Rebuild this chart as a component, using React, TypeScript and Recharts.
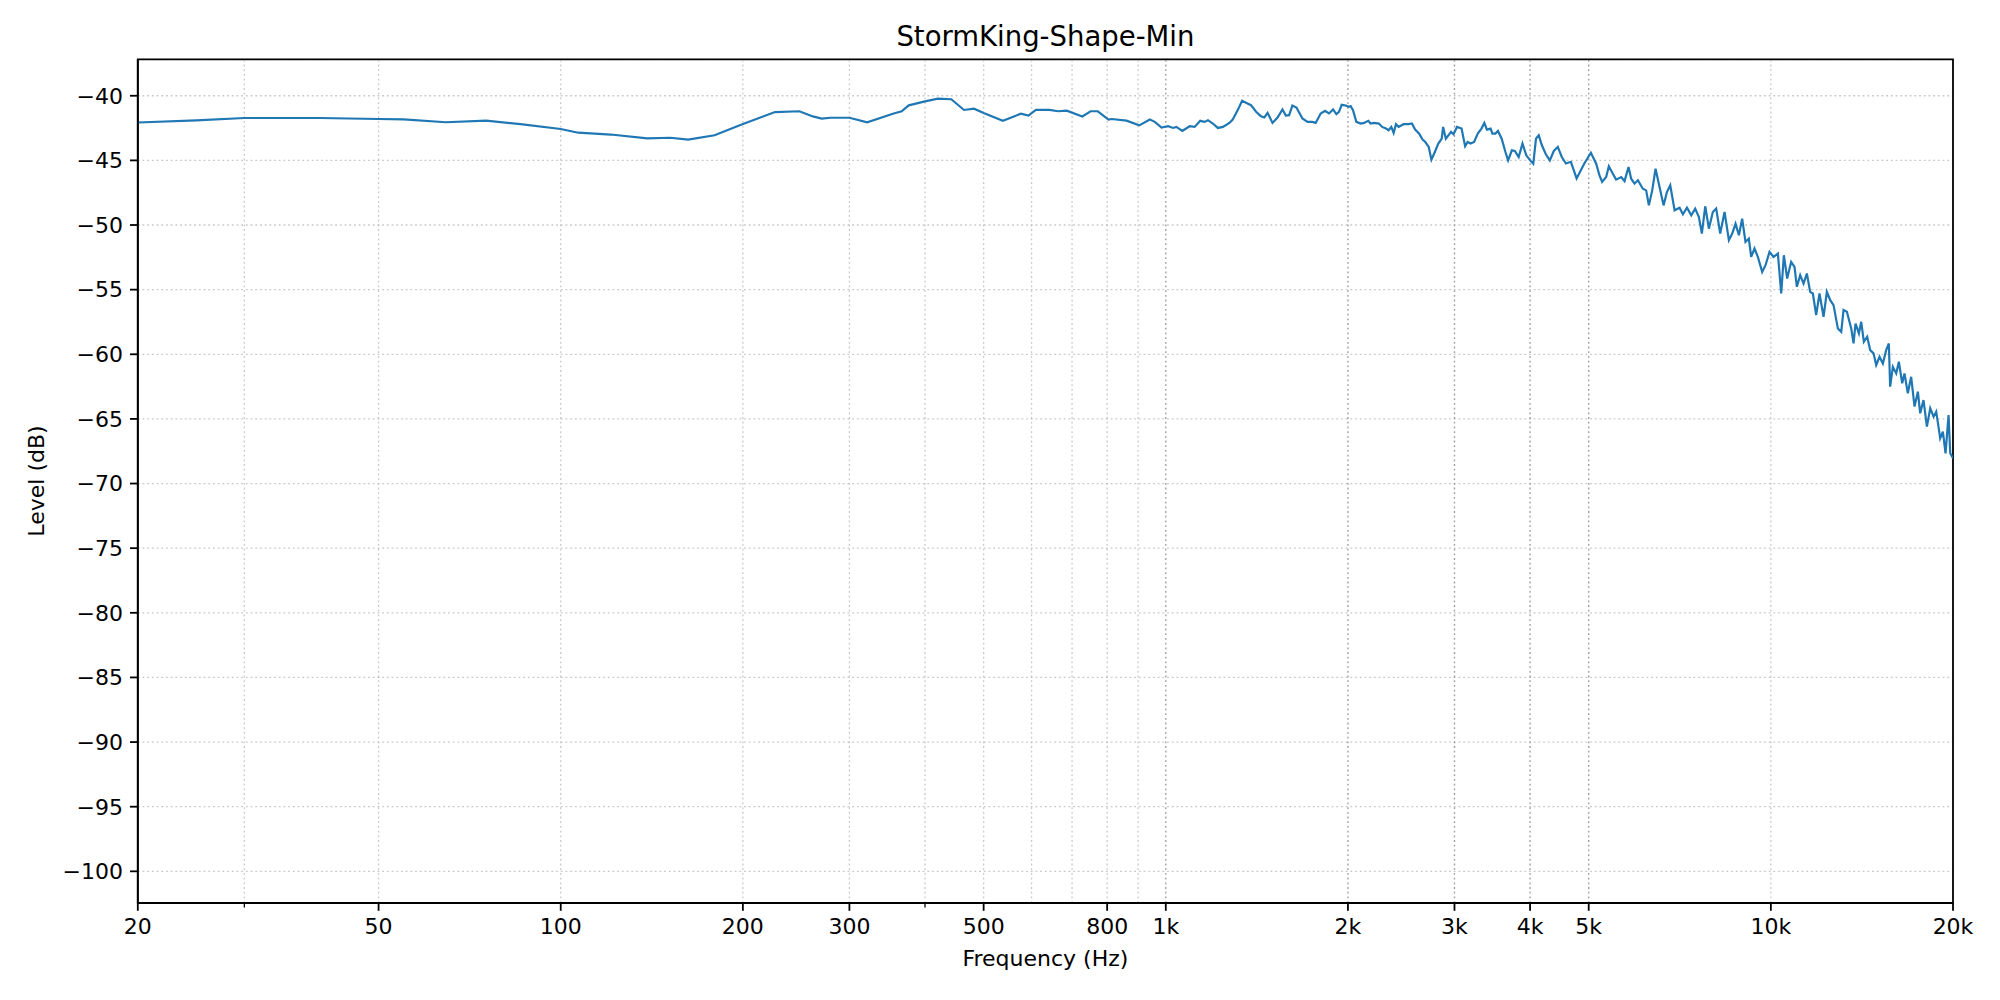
import React from "react"
import { LineChart, Line, XAxis, YAxis, CartesianGrid, ReferenceLine, ReferenceArea } from "recharts"

const freqs = [
  20, 25, 30, 40, 50, 55, 64.6, 75.3, 85.8, 100, 106.9, 121, 139, 151.7, 162.4, 179.6, 198.6, 226, 248,
  261, 270, 279, 300, 321, 354, 366, 376, 400, 420, 442, 464, 482, 500, 538, 576, 593, 610, 642, 664,
  686, 728, 751, 772, 804, 814, 861, 904,
  941, 959, 984, 1009, 1028, 1041, 1065, 1095, 1116, 1140, 1159, 1174, 1196, 1219, 1243, 1274, 1290,
  1315, 1337, 1357, 1383, 1410, 1436, 1455, 1473, 1501, 1530, 1559, 1579, 1599, 1619, 1644, 1682,
  1715, 1747, 1769, 1803, 1833, 1861, 1890, 1914, 1933, 1953, 1983, 2008, 2021, 2039, 2065, 2099,
  2126, 2161, 2180, 2208, 2250, 2278, 2312, 2335, 2359, 2380, 2401, 2426, 2471, 2518, 2551, 2583,
  2623, 2657, 2685, 2720, 2748, 2784, 2821, 2858, 2873, 2903, 2961, 2989, 3029, 3082, 3124, 3154,
  3189, 3233, 3278, 3324, 3361, 3394, 3442, 3466, 3505, 3540, 3590, 3642, 3679, 3732, 3775, 3830,
  3886, 3943, 4001, 4049, 4091, 4134, 4184, 4247, 4312, 4378, 4445, 4513, 4585, 4672, 4775, 4917,
  5041, 5144, 5209, 5262, 5343, 5398, 5481, 5550, 5658, 5730, 5818, 5877, 5953, 6029, 6144, 6222,
  6286, 6367, 6448, 6547, 6648, 6733, 6819, 6933, 7066, 7156, 7267, 7387, 7499, 7604, 7691, 7790,
  7899, 8019, 8121, 8247, 8384, 8524, 8633, 8743, 8855, 8965, 9080, 9196, 9279, 9397, 9517, 9676,
  9799, 9949, 10102, 10271, 10402, 10507, 10641, 10804, 10942, 11041, 11182, 11325, 11468, 11614,
  11733, 11882, 12033, 12220, 12376, 12534, 12694, 12904, 13071, 13186, 13355, 13577, 13697, 13802,
  13980, 14103, 14247, 14428, 14595, 14781, 14931, 15122, 15315, 15508, 15667, 15746, 15909, 16112,
  16276, 16484, 16629, 16841, 17056, 17277, 17498, 17652, 17877, 18109, 18340, 18574, 18763, 19050,
  19244, 19440, 19665, 19790, 20000,
]

const levels = [
  -42.07, -41.9, -41.72, -41.72, -41.8, -41.82, -42.05, -41.93, -42.2, -42.57, -42.86, -43.0, -43.3,
  -43.25, -43.4, -43.06, -42.24, -41.26, -41.2, -41.6, -41.77, -41.7, -41.7, -42.05, -41.39, -41.2,
  -40.74, -40.43, -40.23, -40.27, -41.1, -41.0, -41.34, -41.93, -41.39, -41.53, -41.1, -41.1, -41.2,
  -41.15, -41.6, -41.2, -41.2, -41.85, -41.8, -41.93, -42.29,
  -41.84, -42.02, -42.46, -42.36, -42.49, -42.41, -42.72, -42.36, -42.41, -41.94, -42.02, -41.89,
  -42.15, -42.49, -42.41, -42.1, -41.84, -41.11, -40.39, -40.54, -40.73, -41.24, -41.58, -41.68,
  -41.32, -42.1, -41.68, -41.06, -41.53, -41.5, -40.75, -40.91, -41.76, -42.02, -42.02, -42.1,
  -41.37, -41.17, -41.37, -41.06, -41.42, -41.24, -40.7, -40.75, -40.85, -40.8, -41.11, -42.02,
  -42.15, -42.1, -41.94, -42.15, -42.1, -42.15, -42.41, -42.54, -42.67, -42.41, -42.88, -42.2,
  -42.41, -42.2, -42.2, -42.15, -42.62, -42.93, -43.39, -43.58, -43.96, -44.95, -44.35, -43.7,
  -43.32, -42.41, -43.32, -42.8, -42.98, -42.41, -42.54, -43.91, -43.58, -43.7, -43.58, -42.93,
  -42.54, -42.1, -42.62, -42.54, -42.93, -42.93, -42.72, -43.32, -44.35, -45.0, -44.22, -44.27,
  -44.74, -43.7, -44.61, -45.0, -45.26, -43.32, -43.06, -43.83, -44.53, -45.0, -44.27, -43.96,
  -44.74, -45.24, -45.11, -46.4, -45.24,
  -44.41, -45.26, -46.16, -46.67, -46.29, -45.46, -46.03, -46.49, -46.29, -46.6, -45.51, -46.42,
  -46.8, -46.54, -47.19, -47.32, -48.48, -47.32, -45.64, -47.06, -48.48, -47.45, -46.93, -48.86,
  -48.66, -49.17, -48.66, -49.25, -48.73, -49.38, -50.66, -48.55, -50.28, -48.99, -48.73, -50.66,
  -48.99, -51.18, -50.66, -49.89, -50.79, -49.51, -51.31, -51.05, -52.47, -51.82, -52.47, -53.63,
  -53.11, -52.08, -52.47, -52.21, -55.3, -52.34, -54.14, -52.85, -53.24, -54.78, -53.88, -54.53,
  -53.75, -55.17, -55.3, -56.97, -55.3, -57.1, -55.17, -55.81, -56.2, -58.0, -58.26, -56.58,
  -56.71, -58.0, -59.16, -57.62, -58.39, -57.49, -59.03, -58.64, -59.68, -59.93, -60.83, -60.19,
  -60.71, -59.68, -59.16, -62.51, -60.97, -61.48, -60.58, -62.25, -61.48, -63.02, -61.74, -64.05,
  -62.89, -64.57, -63.54, -65.6, -64.18, -64.83, -64.44, -66.5, -65.98, -67.66, -64.7, -67.66,
  -68.04,
]

const xTicks = [20, 30, 50, 100, 200, 300, 400, 500, 800, 1000, 2000, 3000, 4000, 5000, 10000, 20000]
const xMinor = [30, 400]
const yTicks = [-100, -95, -90, -85, -80, -75, -70, -65, -60, -55, -50, -45, -40]
const gridLight = [30, 50, 100, 200, 300, 400, 500, 600, 700, 800, 900, 10000]
const gridDark = [1000, 2000, 3000, 4000, 5000]

const data = freqs.map((f, i) => ({ f, level: levels[i] }))

const FONT = "'DejaVu Sans', sans-serif"
const TICK_LEN = 7.8
const TICK_MARGIN = 7
const PLOT_LEFT = 137.8
const PLOT_RIGHT = 1953
const PLOT_TOP = 59.3
const PLOT_BOTTOM = 903

const fmtFreq = (v: number) => (v >= 1000 ? `${v / 1000}k` : `${v}`)

function XTick(props: any) {
  const { x, y, payload } = props
  const minor = xMinor.includes(payload.value)
  const axisY = y - TICK_LEN - TICK_MARGIN
  return (
    <g>
      <line x1={x} x2={x} y1={axisY} y2={axisY + (minor ? 4.4 : TICK_LEN)} stroke="#000" strokeWidth={minor ? 1.3 : 1.8} />
      {!minor && (
        <text x={x} y={y} dy="0.75em" textAnchor="middle" fontSize={22} fontFamily={FONT} fill="#000">
          {fmtFreq(payload.value)}
        </text>
      )}
    </g>
  )
}

export default function App() {
  return (
    <div style={{ position: "absolute", left: 0, top: 0, width: 2000, height: 1000, background: "#fff", fontFamily: FONT }}>
      <LineChart
        width={2000}
        height={1000}
        data={data}
        margin={{ top: PLOT_TOP, right: 2000 - PLOT_RIGHT, bottom: 1000 - PLOT_BOTTOM - 30, left: PLOT_LEFT - 80 }}
      >
        <CartesianGrid vertical={false} stroke="#b0b0b0" strokeOpacity={0.7} strokeWidth={1.3} strokeDasharray="1.8 2.9" />
        {gridLight.map((v) => (
          <ReferenceLine key={`gl-${v}`} x={v} stroke="#b0b0b0" strokeOpacity={0.7} strokeWidth={1.3} strokeDasharray="1.8 2.9" />
        ))}
        {gridDark.map((v) => (
          <ReferenceLine key={`gd-${v}`} x={v} stroke="#8f8f8f" strokeOpacity={0.85} strokeWidth={1.4} strokeDasharray="1.8 2.9" />
        ))}
        <XAxis
          dataKey="f"
          type="number"
          scale="log"
          domain={[20, 20000]}
          allowDataOverflow
          ticks={xTicks}
          interval={0}
          height={30}
          tickSize={TICK_LEN}
          tickMargin={TICK_MARGIN}
          tickLine={false}
          axisLine={{ stroke: "#000", strokeWidth: 1.8 }}
          tick={<XTick />}
        />
        <YAxis
          type="number"
          domain={[-102.45, -37.18]}
          allowDataOverflow
          ticks={yTicks}
          interval={0}
          width={80}
          tickSize={TICK_LEN}
          tickMargin={TICK_MARGIN}
          tickLine={{ stroke: "#000", strokeWidth: 1.8 }}
          axisLine={{ stroke: "#000", strokeWidth: 1.8 }}
          tick={{ fontSize: 22, fontFamily: FONT, fill: "#000" }}
          tickFormatter={(v: number) => `${v}`.replace("-", "\u2212")}
        />
        <ReferenceArea x1={20} x2={20000} y1={-102.45} y2={-37.18} fill="none" stroke="#000" strokeWidth={1.8} ifOverflow="visible" />
        <Line
          dataKey="level"
          type="linear"
          stroke="#1f77b4"
          strokeWidth={2.2}
          dot={false}
          isAnimationActive={false}
        />
      </LineChart>
      <div
        style={{
          position: "absolute",
          left: PLOT_LEFT,
          width: PLOT_RIGHT - PLOT_LEFT,
          top: 20,
          textAlign: "center",
          fontSize: 27.5,
          lineHeight: "32px",
          color: "#000",
        }}
      >
        StormKing-Shape-Min
      </div>
      <div
        style={{
          position: "absolute",
          left: PLOT_LEFT,
          width: PLOT_RIGHT - PLOT_LEFT,
          top: 946,
          textAlign: "center",
          fontSize: 22,
          lineHeight: "26px",
          color: "#000",
        }}
      >
        Frequency (Hz)
      </div>
      <div
        style={{
          position: "absolute",
          left: 37,
          top: (PLOT_TOP + PLOT_BOTTOM) / 2,
          fontSize: 22,
          lineHeight: "26px",
          color: "#000",
          whiteSpace: "nowrap",
          transform: "translate(-50%, -50%) rotate(-90deg)",
        }}
      >
        Level (dB)
      </div>
    </div>
  )
}
